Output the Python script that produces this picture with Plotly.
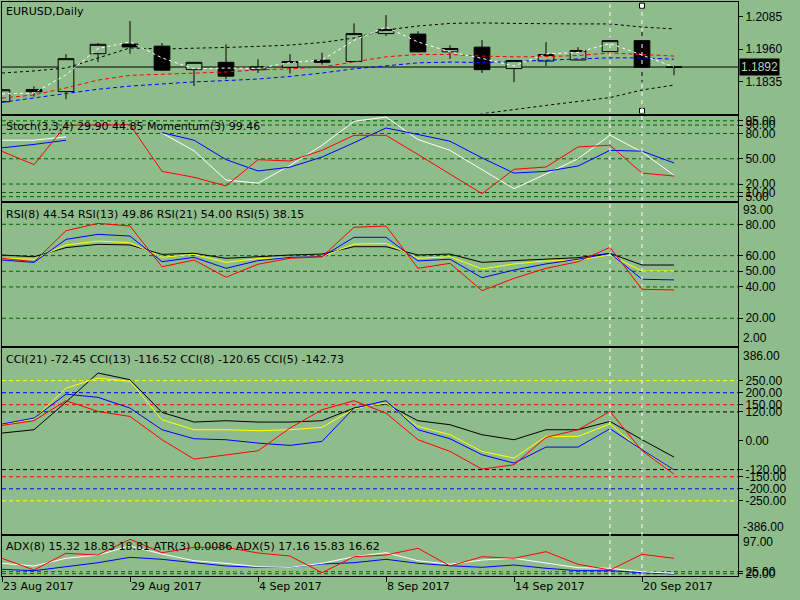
import plotly.graph_objects as go

BG = "#8FBC8B"
LEVEL_GREEN = "#006400"

# ---------------- data ----------------
bar_dates = ["23 Aug 2017", "24 Aug 2017", "25 Aug 2017", "28 Aug 2017", "29 Aug 2017",
             "30 Aug 2017", "31 Aug 2017", "1 Sep 2017", "4 Sep 2017", "5 Sep 2017",
             "6 Sep 2017", "7 Sep 2017", "8 Sep 2017", "11 Sep 2017", "12 Sep 2017",
             "13 Sep 2017", "14 Sep 2017", "15 Sep 2017", "18 Sep 2017", "19 Sep 2017",
             "20 Sep 2017", "21 Sep 2017"]
date_tick_idx = [0, 4, 8, 12, 16, 20]

opens = [1.1759, 1.1806, 1.1798, 1.1943, 1.1980, 1.1972, 1.1882, 1.1910, 1.1882, 1.1891, 1.1918,
         1.1913, 1.2020, 1.2018, 1.1950, 1.1968, 1.1886, 1.1915, 1.1919, 1.1951, 1.1993, 1.1891]
highs = [1.1808, 1.1818, 1.1941, 1.1984, 1.2068, 1.1984, 1.1911, 1.1979, 1.1922, 1.1941, 1.1947,
         1.2059, 1.2091, 1.2029, 1.1975, 1.1995, 1.1918, 1.1987, 1.1968, 1.2006, 1.2029, 1.1897]
lows = [1.1757, 1.1779, 1.1769, 1.1911, 1.1943, 1.1877, 1.1819, 1.1845, 1.1869, 1.1867, 1.1901,
        1.1911, 1.2011, 1.1948, 1.1923, 1.1869, 1.1834, 1.1896, 1.1918, 1.1950, 1.1834, 1.1861]
closes = [1.1805, 1.1797, 1.1924, 1.1979, 1.1969, 1.1880, 1.1910, 1.1857, 1.1893, 1.1913, 1.1910,
          1.2020, 1.2036, 1.1950, 1.1963, 1.1882, 1.1917, 1.1940, 1.1955, 1.1993, 1.1891, 1.1892]

ma_white = [1.1789, 1.1793, 1.1862, 1.1963, 1.1988, 1.1927, 1.1885, 1.1888, 1.1887, 1.1909, 1.1919,
            1.1994, 1.2045, 1.1988, 1.1950, 1.1925, 1.1896, 1.1942, 1.1948, 1.1982, 1.1938, 1.1892]
ma_red = [1.1773, 1.1785, 1.1812, 1.1842, 1.1860, 1.1865, 1.1869, 1.1873, 1.1881, 1.1885, 1.1892,
          1.1911, 1.1931, 1.1940, 1.1940, 1.1934, 1.1931, 1.1932, 1.1936, 1.1946, 1.1940, 1.1934]
ma_blue = [1.1757, 1.1773, 1.1789, 1.1807, 1.1819, 1.1827, 1.1835, 1.1840, 1.1846, 1.1856, 1.1869,
           1.1885, 1.1896, 1.1908, 1.1911, 1.1909, 1.1913, 1.1919, 1.1923, 1.1927, 1.1927, 1.1922]
band_upper = [1.1869, 1.1877, 1.1888, 1.1927, 1.1965, 1.1961, 1.1963, 1.1967, 1.1971, 1.1976, 1.1986,
              1.2003, 1.2034, 1.2049, 1.2059, 1.2061, 1.2059, 1.2057, 1.2057, 1.2057, 1.2045, 1.2038]
band_lower = [None, None, None, None, None, None, None, None, None, None, None, None, None, None,
              1.1697, 1.1712, 1.1729, 1.1745, 1.1760, 1.1775, 1.1804, 1.1823]
current_price = 1.1892
price_ticks = [1.2085, 1.1960, 1.1835]

stoch_main = [58.8, 43.0, 89.7, 90.4, 90.4, 35.0, 28.0, 17.7, 48.9, 47.3, 60.0, 77.8, 77.8, 55.0,
              32.0, 8.6, 37.5, 40.2, 64.0, 66.0, 33.0, 29.5]
stoch_signal = [63.0, 67.0, 72.0, None, None, 81.0, 72.0, 49.0, 35.5, 40.0, 52.0, 69.0, 86.5, 78.8,
                70.8, 51.0, 33.0, 35.0, 41.4, 60.0, 59.0, 45.0]
momentum = [72.0, 72.0, 76.0, None, None, 80.5, 59.5, 24.8, 21.0, 42.0, 66.0, 94.4, 99.5, 72.8,
            60.0, 37.0, 14.5, 32.0, 50.0, 78.0, 58.0, 30.4]
stoch_levels = [95, 90, 80, 50, 20, 10, 5]

rsi5 = [58.3, 56.1, 75.9, 80.6, 78.9, 52.9, 57.2, 46.2, 54.5, 58.3, 59.3, 78.1, 78.9, 51.9, 55.1,
        37.6, 45.5, 51.9, 56.1, 65.3, 38.5, 38.1]
rsi8 = [57.2, 55.7, 70.4, 73.6, 72.5, 56.1, 58.9, 51.9, 56.8, 58.9, 59.3, 71.7, 71.7, 56.6, 57.7,
        45.9, 50.8, 54.7, 57.7, 61.5, 44.9, 44.5]
rsi13 = [58.3, 57.7, 66.8, 69.3, 68.3, 58.9, 60.8, 55.7, 58.1, 58.9, 59.3, 67.4, 67.8, 58.3, 59.3,
         51.5, 54.7, 56.6, 57.2, 60.4, 50.2, 50.2]
rsi21 = [60.4, 59.3, 65.1, 67.2, 66.8, 60.8, 61.5, 58.3, 59.3, 60.4, 61.0, 65.7, 65.7, 60.4, 61.0,
         55.7, 56.8, 57.7, 58.7, 61.5, 54.0, 54.0]
rsi_levels = [80, 60, 50, 40, 20]

cci5 = [63.9, 83.3, 166.7, 122, 101, 4.2, -76.4, -58.3, -41.7, 52.8, 129, 166.7, 115, 4.2, -44.4,
        -118, -100, 13.9, 45.8, 122, -41.7, -139]
cci8 = [69.4, 94.4, 194, 180.6, 136, 45.8, 8.3, 4.2, -9.7, -19.4, -2.8, 136, 166.7, 45.8, 8.3,
        -58.3, -93, -26.4, -26.4, 50, -37.5, -121]
cci13 = [66.7, 91.7, 219, 261, 247, 87.5, 45.8, 45.8, 41.7, 45.8, 55.6, 133, 157, 59.7, 25,
         -44.4, -72, 18, 18, 69.4, -41.7, -121]
cci21 = [32, 45.8, 161, 282, 254, 118, 77.8, 83.3, 77.8, 77.8, 83.3, 136, 153, 83.3, 66.7, 25,
         4.2, 45.8, 45.8, 80.6, 4.2, -68]
cci_ticks = [250, 200, 150, 120, 0, -120, -150, -200, -250]
cci_level_values = [250, -250, 200, -200, 150, -150, 120, -120]
cci_level_colors = ["#FFFF00", "#FFFF00", "#0000FF", "#0000FF", "#FF0000", "#FF0000", "#000000", "#000000"]

adx_red = [57.8, 29.1, 70.0, 65.9, 104.4, 71.5, 84.7, 84.7, 70.8, 63.4, 22.5, 61.7, 65.9, 82.3,
           38.9, 61.7, 57.8, 74.0, 43.1, 29.1, 67.6, 57.8]
adx_white = [45.5, 38.9, 57.8, 65.9, 87.9, 68.3, 51.9, 45.5, 37.2, 35.7, 45.5, 61.7, 71.5, 51.9,
             43.1, 53.6, 57.8, 45.5, 34.7, 33.3, 24.9, 21.0]
adx_blue = [30.8, 27.4, 37.2, 47.0, 60.2, 55.3, 47.0, 38.9, 35.7, 35.7, 43.8, 47.0, 55.3, 45.5,
            39.6, 35.7, 41.4, 33.3, 27.4, 27.4, 22.5, 19.3]
atr_line = [16.9, 16.9, 22.0, 30.0, 60.2, 46.3, 31.6, 26.7, 24.2, 24.2, 29.1, 38.9, 49.5, 38.9,
            29.1, 24.2, 24.2, 24.2, 31.6, 43.8, 29.1, 21.8]
adx_levels = [25, 20]

marked_bars = [19, 20]
marker_prices = [1.2127, 1.1724]

x = list(range(len(bar_dates)))

# ---------------- layout geometry ----------------
FIG_W, FIG_H = 800, 600
M_L, M_R, M_T, M_B = 2, 62, 2, 24
PLOT_H = FIG_H - M_T - M_B  # 574
BOT = FIG_H - M_B


def dom(top_px, bot_px):
    return [(BOT - bot_px) / PLOT_H, (BOT - top_px) / PLOT_H]


def py(px):
    return (BOT - px) / PLOT_H


panels = [
    dict(dom=dom(2, 113.5), rng=[1.1714, 1.2141]),
    dict(dom=dom(115.5, 201), rng=[-0.12, 101.3]),
    dict(dom=dom(203, 346), rng=[2.3, 93.6]),
    dict(dom=dom(348, 533.5), rng=[-386, 386]),
    dict(dom=dom(535.5, 576), rng=[14.4, 113.7]),
]

TICKFONT = dict(family="Liberation Sans, Arial", size=12, color="black")
LABELFONT = dict(family="DejaVu Sans", size=11, color="black")

fig = go.Figure()

# ---------- price panel ----------
fig.add_trace(go.Candlestick(
    x=x, open=opens, high=highs, low=lows, close=closes,
    increasing=dict(line=dict(color="black", width=1), fillcolor=BG),
    decreasing=dict(line=dict(color="black", width=1), fillcolor="black"),
    whiskerwidth=0, xaxis="x", yaxis="y", showlegend=False, hoverinfo="skip"))


def line(xv, yv, color, axis_i, dash="solid", width=1):
    xa = "x" if axis_i == 1 else f"x{axis_i}"
    ya = "y" if axis_i == 1 else f"y{axis_i}"
    fig.add_trace(go.Scatter(x=xv, y=yv, mode="lines", xaxis=xa, yaxis=ya,
                             line=dict(color=color, width=width, dash=dash),
                             connectgaps=False, showlegend=False, hoverinfo="skip"))


line(x, band_upper, "black", 1, dash="3px,3px")
line(x, band_lower, "black", 1, dash="3px,3px")
line(x, ma_blue, "#0000FF", 1, dash="4px,3px")
line(x, ma_red, "#FF0000", 1, dash="4px,3px")
line(x, ma_white, "#FFFFFF", 1, dash="3px,3px")

# stoch panel
line(x, momentum, "#FFFFFF", 2)
line(x, stoch_signal, "#0000FF", 2)
line(x, stoch_main, "#FF0000", 2)

# rsi panel
line(x, rsi21, "#000000", 3)
line(x, rsi13, "#FFFF00", 3)
line(x, rsi8, "#0000FF", 3)
line(x, rsi5, "#FF0000", 3)

# cci panel
line(x, cci21, "#000000", 4)
line(x, cci13, "#FFFF00", 4)
line(x, cci8, "#0000FF", 4)
line(x, cci5, "#FF0000", 4)

# adx panel
line(x, atr_line, "#9ACD32", 5, dash="2px,2px")
line(x, adx_blue, "#0000FF", 5)
line(x, adx_white, "#FFFFFF", 5)
line(x, adx_red, "#FF0000", 5)

# markers of the selected vertical line
fig.add_trace(go.Scatter(x=[marked_bars[1]] * 2, y=marker_prices, mode="markers",
                         xaxis="x", yaxis="y",
                         marker=dict(symbol="square", size=5, color="white",
                                     line=dict(color="black", width=1)),
                         showlegend=False, hoverinfo="skip"))

shapes = []


def hline(axis_i, val, color, dash="4px,3px"):
    xr = "x domain" if axis_i == 1 else f"x{axis_i} domain"
    yr = "y" if axis_i == 1 else f"y{axis_i}"
    shapes.append(dict(type="line", xref=xr, yref=yr, x0=0, x1=1, y0=val, y1=val,
                       line=dict(color=color, width=1, dash=dash), layer="below"))


hline(1, current_price, "black", dash="solid")
for v in stoch_levels:
    hline(2, v, LEVEL_GREEN)
for v in rsi_levels:
    hline(3, v, LEVEL_GREEN)
for v, c in zip(cci_level_values, cci_level_colors):
    hline(4, v, c)
for v in adx_levels:
    hline(5, v, LEVEL_GREEN)

for b in marked_bars:
    shapes.append(dict(type="line", xref="x", yref="paper", x0=b, x1=b, y0=0, y1=1,
                       line=dict(color="white", width=1, dash="4px,4px"), layer="above"))

annotations = []
labels = [
    ("EURUSD,Daily", 12),
    ("Stoch(3,3,4) 29.90 44.85 Momentum(3) 99.46", 127),
    ("RSI(8) 44.54 RSI(13) 49.86 RSI(21) 54.00 RSI(5) 38.15", 215),
    ("CCI(21) -72.45 CCI(13) -116.52 CCI(8) -120.65 CCI(5) -142.73", 359),
    ("ADX(8) 15.32 18.83 18.81 ATR(3) 0.0086 ADX(5) 17.16 15.83 16.62", 546),
]
for txt, cy in labels:
    annotations.append(dict(text=txt, xref="paper", yref="paper", x=0, y=py(cy),
                            xanchor="left", yanchor="middle", xshift=2, showarrow=False,
                            font=LABELFONT))

edge_labels = [("93.00", 210), ("2.00", 338), ("386.00", 355.7), ("-386.00", 526.7), ("97.00", 542)]
for txt, cy in edge_labels:
    annotations.append(dict(text=txt, xref="paper", yref="paper", x=1, y=py(cy),
                            xanchor="left", yanchor="middle", xshift=3, showarrow=False,
                            font=TICKFONT))

annotations.append(dict(text=f"{current_price:.4f}", xref="paper", yref="y", x=1, y=current_price,
                        xanchor="left", yanchor="middle", xshift=1, showarrow=False,
                        bgcolor="black", borderpad=1,
                        font=dict(family="Liberation Sans, Arial", size=12, color="#B4D8B0")))

layout = dict(
    width=FIG_W, height=FIG_H,
    margin=dict(l=M_L, r=M_R, t=M_T, b=M_B, autoexpand=False),
    paper_bgcolor=BG, plot_bgcolor=BG,
    showlegend=False, hovermode=False,
    font=LABELFONT,
    shapes=shapes, annotations=annotations,
)

ytick_sets = [
    (price_ticks, [f"{v:.4f}" for v in price_ticks]),
    (stoch_levels, [f"{v:.2f}" for v in stoch_levels]),
    (rsi_levels, [f"{v:.2f}" for v in rsi_levels]),
    (cci_ticks, [f"{v:.2f}" for v in cci_ticks]),
    (adx_levels, [f"{v:.2f}" for v in adx_levels]),
]

for i, p in enumerate(panels, start=1):
    xk = "xaxis" if i == 1 else f"xaxis{i}"
    yk = "yaxis" if i == 1 else f"yaxis{i}"
    ya = "y" if i == 1 else f"y{i}"
    xa = "x" if i == 1 else f"x{i}"
    xa_cfg = dict(domain=[0, 1], range=[0, 23], anchor=ya, showline=True, mirror=True,
                  linecolor="black", linewidth=1, showgrid=False, zeroline=False,
                  showticklabels=False, ticks="", fixedrange=True, automargin=False)
    if i == 1:
        xa_cfg["rangeslider"] = dict(visible=False)
    if i == 5:
        xa_cfg.update(showticklabels=True, ticks="outside", ticklen=5, tickcolor="black",
                      tickvals=date_tick_idx, ticktext=[bar_dates[k] for k in date_tick_idx],
                      ticklabelposition="outside right", tickfont=LABELFONT)
    tv, tt = ytick_sets[i - 1]
    ya_cfg = dict(domain=p["dom"], range=p["rng"], anchor=xa, side="right", showline=True,
                  mirror=True, linecolor="black", linewidth=1, showgrid=False, zeroline=False,
                  ticks="outside", ticklen=4, tickcolor="black", tickvals=tv, ticktext=tt,
                  tickfont=TICKFONT, fixedrange=True, automargin=False)
    layout[xk] = xa_cfg
    layout[yk] = ya_cfg

fig.update_layout(**layout)
fig.write_html("out.html", config={"displayModeBar": False},
               post_script="document.body.style.margin='0';document.body.style.background='" + BG + "';")
